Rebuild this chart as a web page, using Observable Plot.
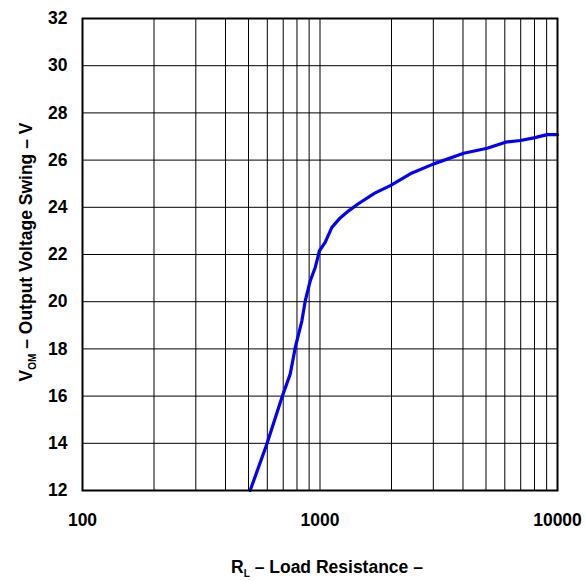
<!DOCTYPE html>
<html><head><meta charset="utf-8">
<script src="https://cdn.jsdelivr.net/npm/d3@7"></script>
<script src="https://cdn.jsdelivr.net/npm/@observablehq/plot@0.6"></script>
<style>body{margin:0;background:#fff}</style>
</head><body><div id="chart"></div>
<script>
const loadResistance = [508, 597, 691, 749, 787, 839, 867, 910, 955, 995, 1051, 1122, 1216, 1320, 1450, 1700, 1977, 2400, 3012, 4028, 5057, 6040, 6985, 7943, 9055, 10000];
const outputSwing = [12, 13.96, 15.94, 16.93, 18.06, 19.19, 20.04, 20.89, 21.45, 22.16, 22.51, 23.15, 23.55, 23.85, 24.15, 24.6, 24.92, 25.42, 25.84, 26.29, 26.5, 26.76, 26.83, 26.94, 27.08, 27.08];
const xTickLabels = [100, 1000, 10000];
const xGridValues = [200, 300, 400, 500, 600, 700, 800, 900, 1000, 2000, 3000, 4000, 5000, 6000, 7000, 8000, 9000];
const yTickLabels = [12, 14, 16, 18, 20, 22, 24, 26, 28, 30, 32];
const xLabel = ["R", "L", " – Load Resistance –"];
const yLabel = ["V", "OM", " – Output Voltage Swing – V"];

const data = loadResistance.map((r, i) => ({r, v: outputSwing[i]}));

const chart = Plot.plot({
  width: 585, height: 581,
  marginLeft: 82, marginRight: 28, marginTop: 18, marginBottom: 91,
  style: {fontFamily: "'Liberation Sans', Arial, sans-serif", fontSize: "17.5px", fontWeight: "bold", background: "#fff", color: "#000"},
  x: {type: "log", domain: [100, 10000]},
  y: {domain: [12, 32]},
  marks: [
    Plot.gridX(xGridValues, {stroke: "#000", strokeOpacity: 1, strokeWidth: 1}),
    Plot.gridY(yTickLabels, {stroke: "#000", strokeOpacity: 1, strokeWidth: 1}),
    Plot.line(data, {x: "r", y: "v", stroke: "#0000ff", strokeWidth: 3.2}),
    Plot.frame({stroke: "#000", strokeWidth: 2}),
    Plot.axisX(xTickLabels, {tickSize: 0, tickPadding: 23, tickFormat: d => String(d), label: null, fontSize: 17.5}),
    Plot.axisY(yTickLabels, {tickSize: 0, tickPadding: 15, label: null, fontSize: 17.5})
  ]
});
document.getElementById("chart").appendChild(chart);

const svg = d3.select(chart);
const xt = svg.append("text")
  .attr("x", 327).attr("y", 573)
  .attr("text-anchor", "middle")
  .attr("font-size", 17.5).attr("font-weight", "bold").attr("fill", "#000");
xt.append("tspan").text(xLabel[0]);
xt.append("tspan").attr("font-size", 10).attr("dy", 4).text(xLabel[1]);
xt.append("tspan").attr("dy", -4).text(xLabel[2]);

const yt = svg.append("text")
  .attr("transform", "translate(32,252) rotate(-90)")
  .attr("text-anchor", "middle")
  .attr("font-size", 17.5).attr("font-weight", "bold").attr("fill", "#000");
yt.append("tspan").text(yLabel[0]);
yt.append("tspan").attr("font-size", 10).attr("dy", 4).text(yLabel[1]);
yt.append("tspan").attr("dy", -4).text(yLabel[2]);
</script>
</body></html>
